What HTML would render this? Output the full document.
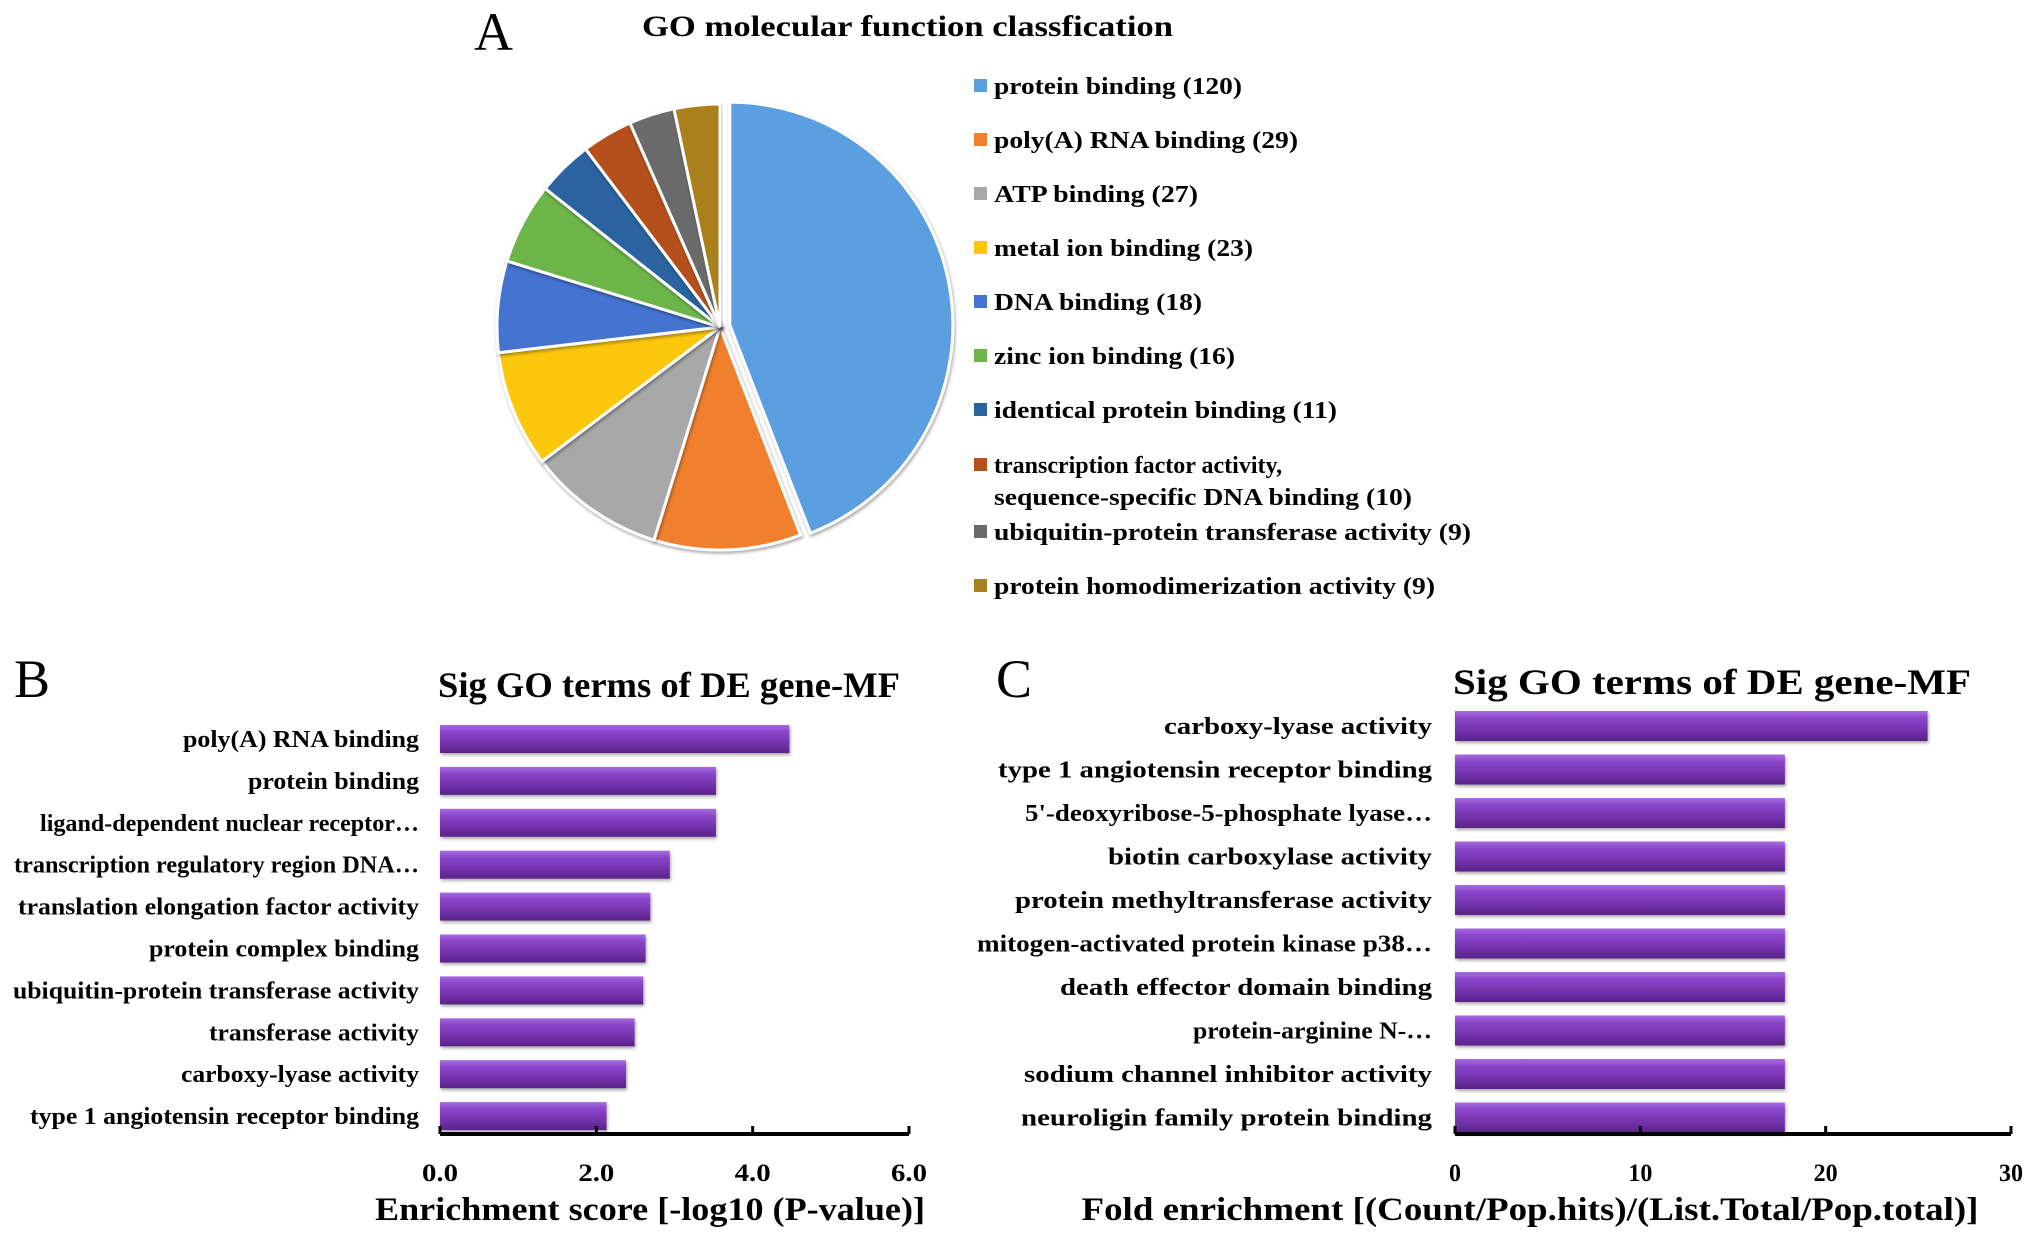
<!DOCTYPE html>
<html><head><meta charset="utf-8"><style>
html,body{margin:0;padding:0;background:#fff;}
svg{display:block;font-family:"Liberation Serif","Times New Roman",serif;font-weight:bold;}
</style></head><body>
<svg id="fig" width="2031" height="1240" viewBox="0 0 2031 1240" xmlns="http://www.w3.org/2000/svg">
<defs>
<linearGradient id="barg" x1="0" y1="0" x2="0" y2="1">
<stop offset="0" stop-color="#a66be0"/><stop offset="0.25" stop-color="#8a45c9"/><stop offset="0.7" stop-color="#7030a8"/><stop offset="1" stop-color="#5a2388"/>
</linearGradient>
<filter id="sh" x="-5%" y="-20%" width="110%" height="160%"><feDropShadow dx="1" dy="2" stdDeviation="1.5" flood-color="#000" flood-opacity="0.35"/></filter>
</defs>
<text x="474" y="50" font-size="54" font-weight="normal">A</text>
<text x="642" y="36" font-size="30" textLength="531" lengthAdjust="spacingAndGlyphs">GO molecular function classfication</text>
<g id="pie"></g>
<g id="legend"></g>

<text x="14" y="697" font-size="54" font-weight="normal">B</text>
<text x="438" y="697" font-size="36" textLength="462" lengthAdjust="spacingAndGlyphs">Sig GO terms of DE gene-MF</text>
<g id="chartB"></g>
<text x="650" y="1220" font-size="33" text-anchor="middle" textLength="550" lengthAdjust="spacingAndGlyphs">Enrichment score [-log10 (P-value)]</text>

<text x="996" y="697" font-size="54" font-weight="normal">C</text>
<text x="1453" y="694" font-size="36" textLength="518" lengthAdjust="spacingAndGlyphs">Sig GO terms of DE gene-MF</text>
<g id="chartC"></g>
<text x="1530" y="1220" font-size="33" text-anchor="middle" textLength="897" lengthAdjust="spacingAndGlyphs">Fold enrichment [(Count/Pop.hits)/(List.Total/Pop.total)]</text>
</svg>
<script>
var NS="http://www.w3.org/2000/svg";
var pieLabels=["protein binding (120)","poly(A) RNA binding (29)","ATP binding (27)","metal ion binding (23)","DNA binding (18)","zinc ion binding (16)","identical protein binding (11)","transcription factor activity,|sequence-specific DNA binding (10)","ubiquitin-protein transferase activity (9)","protein homodimerization activity (9)"];
var pieValues=[120,29,27,23,18,16,11,10,9,9];
var pieColors=["#5b9fe0","#f07f2e","#a8a8a8","#fdc70f","#4473d0","#6db44a","#2a64a0","#b5501a","#6a6a6a","#a9801e"];
var legendEnds=[1242,1298,1198,1253,1202,1235,1337,1412,1471,1435];

var bLabels=["poly(A) RNA binding","protein binding","ligand-dependent nuclear receptor…","transcription regulatory region DNA…","translation elongation factor activity","protein complex binding","ubiquitin-protein transferase activity","transferase activity","carboxy-lyase activity","type 1 angiotensin receptor binding"];
var bValues=[4.47,3.53,3.53,2.94,2.69,2.63,2.6,2.49,2.38,2.13];
var bLabelLeft=[183,248,40,14,18,149,13,209,181,30];
var bTicks=["0.0","2.0","4.0","6.0"];
var bTickVals=[0,2,4,6];

var cLabels=["carboxy-lyase activity","type 1 angiotensin receptor binding","5'-deoxyribose-5-phosphate lyase…","biotin carboxylase activity","protein methyltransferase activity","mitogen-activated protein kinase p38…","death effector domain binding","protein-arginine N-…","sodium channel inhibitor activity","neuroligin family protein binding"];
var cValues=[25.5,17.8,17.8,17.8,17.8,17.8,17.8,17.8,17.8,17.8];
var cLabelLeft=[1164,998,1025,1108,1015,977,1060,1193,1024,1021];
var cTicks=["0","10","20","30"];
var cTickVals=[0,10,20,30];

function mk(tag,attrs,parent){var e=document.createElementNS(NS,tag);for(var k in attrs)e.setAttribute(k,attrs[k]);parent.appendChild(e);return e;}

(function(){
 var g=document.getElementById('pie');
 var cx=720,cy=327,r=223,total=pieValues.reduce(function(a,b){return a+b;},0);
 var a0=0;
 for(var i=0;i<pieValues.length;i++){
  var a1=a0+pieValues[i]/total*2*Math.PI;
  var mid=(a0+a1)/2, off=(i===0)?10:0;
  var ox=cx+off*Math.sin(mid), oy=cy-off*Math.cos(mid);
  var x0=ox+r*Math.sin(a0),y0=oy-r*Math.cos(a0),x1=ox+r*Math.sin(a1),y1=oy-r*Math.cos(a1);
  var large=(a1-a0)>Math.PI?1:0;
  var p=mk('path',{d:'M'+ox+','+oy+' L'+x0+','+y0+' A'+r+','+r+' 0 '+large+' 1 '+x1+','+y1+' Z',fill:pieColors[i],stroke:'#fff','stroke-width':3,filter:'url(#sh)'},g);
  
  
  a0=a1;
 }
 var lg=document.getElementById('legend');
 var rows=[86,140,194,248,302,356,410,465,532,586];
 for(var j=0;j<pieLabels.length;j++){
  var sq=mk('rect',{x:974,y:rows[j]-7,width:13,height:13,fill:pieColors[j]},lg);
  
  
  var parts=pieLabels[j].split('|');
  for(var k=0;k<parts.length;k++){
   var t=mk('text',{x:994,y:rows[j]+8+k*32,'font-size':24},lg);
   if(parts.length===1||k===parts.length-1){t.setAttribute('textLength',legendEnds[j]-994);t.setAttribute('lengthAdjust','spacingAndGlyphs');}
   t.textContent=parts[k];
   
   
  }
 }
})();

function barChart(id,labels,values,lefts,ticks,tickVals,x0,x1,vmax,y0,pitch,bh,labelRight,axisY,tickW){
 var g=document.getElementById(id);
 function sx(v){return x0+(x1-x0)*v/vmax;}
 for(var i=0;i<values.length;i++){
  var cy=y0+i*pitch;
  var b=mk('rect',{x:sx(0),y:cy-bh/2,width:sx(values[i])-sx(0),height:bh,fill:'url(#barg)',filter:'url(#sh)'},g);
  
  
  var t=mk('text',{x:lefts[i],y:cy+8,'font-size':24,textLength:labelRight-lefts[i],lengthAdjust:'spacingAndGlyphs'},g);
  t.textContent=labels[i];
  
  
 }
 var ax=mk('line',{x1:sx(0),y1:axisY,x2:sx(vmax),y2:axisY,stroke:'#000','stroke-width':4},g);
 
 
 for(var j=0;j<tickVals.length;j++){
  var tk=mk('line',{x1:sx(tickVals[j]),y1:axisY-8,x2:sx(tickVals[j]),y2:axisY,stroke:'#000','stroke-width':3},g);
  
  
  var tl=mk('text',{x:sx(tickVals[j]),y:axisY+47,'font-size':25,'text-anchor':'middle',textLength:tickW*ticks[j].length,lengthAdjust:'spacingAndGlyphs'},g);
  tl.textContent=ticks[j];
  
  
 }
}
barChart('chartB',bLabels,bValues,bLabelLeft,bTicks,bTickVals,440,909,6,739,41.9,28,419,1134,12);
barChart('chartC',cLabels,cValues,cLabelLeft,cTicks,cTickVals,1455,2011,30,726,43.5,30,1432,1134,12);
</script>
</body></html>
